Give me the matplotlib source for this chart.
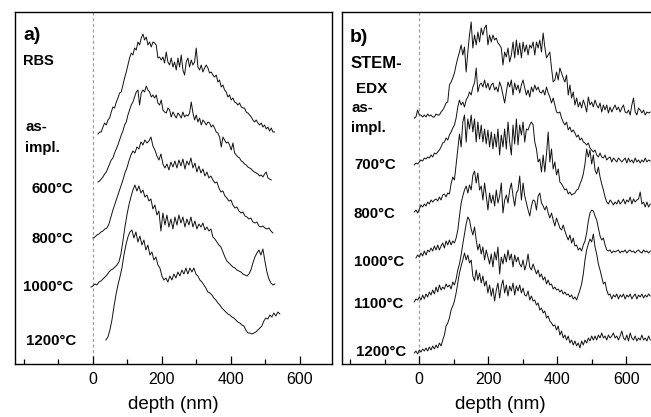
import numpy as np
import matplotlib
matplotlib.use("Agg")
import matplotlib.pyplot as plt
from matplotlib.ticker import MultipleLocator

plt.rcParams['font.family'] = ['Liberation Sans', 'DejaVu Sans']

# ---------------- Panel a: RBS depth profiles ----------------
rbs_labels = ['as-impl.', '600°C', '800°C', '1000°C', '1200°C']
rbs_asimpl = [1,3,3,8,12,10,15,17,23,28,27,33,37,42,43,50,57,63,70,77,82,80,87,85,93,90,97,101,95,98,90,93,88,93,92,90,77,78,75,78,72,83,73,70,77,68,73,65,77,68,80,65,60,73,77,68,75,70,73,87,68,65,70,63,67,70,67,62,63,60,58,60,53,55,48,50,45,43,38,40,35,37,33,32,30,32,28,27,27,23,22,20,18,15,13,15,12,10,12,8,10,6,8,4,7,3,3]
rbs_600 = [1,2,4,6,9,11,15,19,23,25,30,34,38,43,48,52,58,61,68,73,78,81,86,91,93,78,90,93,91,97,93,91,86,88,85,88,80,78,83,73,71,70,75,73,66,71,68,65,70,68,65,71,66,68,67,70,81,70,63,68,61,65,58,63,61,58,61,60,56,58,55,51,50,46,36,46,43,40,41,38,33,40,30,28,26,25,22,21,19,18,16,15,14,12,11,10,9,7,8,6,9,11,5,4,3]
rbs_800 = [0,1,3,4,6,7,9,10,14,21,28,34,40,46,52,58,65,70,77,83,87,85,91,89,96,93,98,95,97,101,92,88,82,78,84,74,70,74,68,76,71,77,70,78,72,79,69,77,73,80,70,75,66,72,65,69,62,66,60,62,58,55,56,50,46,47,42,40,37,38,33,30,31,27,25,26,22,21,19,20,16,15,16,12,11,12,10,9,10,7,5]
rbs_1000 = [0,1,3,2,5,6,8,10,12,15,17,18,20,22,25,33,46,60,72,82,90,97,102,96,101,94,97,90,92,86,88,78,82,72,76,56,74,62,72,60,68,58,70,62,72,64,70,60,68,62,70,60,66,58,63,60,64,57,60,56,58,50,48,45,42,40,35,30,26,24,22,20,19,17,16,15,13,12,11,13,17,24,30,34,37,32,38,26,15,8,4,2,3]
rbs_1200 = [0,3,10,20,33,45,55,63,72,85,95,103,108,110,102,108,98,104,95,100,90,95,85,88,80,83,75,72,64,60,62,58,64,60,66,62,68,64,70,66,72,66,72,68,72,66,64,60,58,55,52,48,47,45,42,40,37,35,32,30,28,26,25,23,22,20,18,17,15,14,10,7,7,6,7,8,10,12,14,19,22,21,25,23,27,24,28,26]
rbs_depth_ranges = [(15.4, 527.5), (15.4, 517.9), (0.9, 522.7), (-4.9, 528.5), (38.6, 542.8)]

# ---------------- Panel b: STEM-EDX depth profiles ----------------
edx_labels = ['as-impl.', '700°C', '800°C', '1000°C', '1100°C', '1200°C']
edx_asimpl = [0,1,8,3,3,1,3,1,4,2,3,1,1,4,3,3,6,8,11,15,16,33,36,40,45,53,60,66,73,63,71,46,66,83,96,
              70,83,73,86,76,90,83,90,93,73,83,76,83,78,80,75,73,70,53,66,61,70,56,63,76,60,78,63,75,60,
              76,66,73,63,73,70,76,63,76,70,78,66,85,71,60,63,66,50,36,38,46,38,50,45,40,36,43,23,33,20,
              26,13,20,11,16,10,18,13,6,21,13,16,11,18,13,10,15,6,13,8,13,5,11,6,10,13,8,11,6,10,
              13,6,5,8,3,13,20,6,3,10,8,5,8,3,6,5,6]
edx_700 = [0,2,1,3,5,4,7,6,8,7,10,8,12,11,13,15,18,22,23,27,25,30,33,37,40,47,58,65,60,63,58,65,68,73,70,78,82,97,73,80,82,78,85,77,82,75,80,82,75,78,73,83,78,70,62,73,83,78,85,70,82,75,80,72,80,85,77,70,75,68,78,73,80,75,78,73,72,75,70,78,72,68,62,67,60,53,52,53,47,43,40,43,35,38,33,35,32,28,30,25,27,23,22,20,22,17,15,13,15,10,8,12,8,7,10,5,7,8,3,7,5,3,7,5,3,5,7,2,7,3,5,2,7,3,5,2,5,3,7,3,5,4]
edx_800 = [0,2,-1,3,7,5,8,6,10,8,12,10,12,13,11,15,12,17,18,15,19,18,28,35,32,47,63,78,65,90,97,70,93,83,97,80,93,70,90,73,87,70,83,68,82,65,80,63,78,65,83,57,77,65,83,63,90,70,57,87,68,93,67,87,77,90,70,83,82,87,90,87,70,63,50,53,40,57,40,58,80,50,63,43,50,37,43,30,28,25,22,23,18,20,17,18,19,22,23,28,32,38,48,63,55,62,48,57,42,38,45,35,28,22,15,10,8,12,10,7,10,8,12,8,10,13,8,12,10,15,8,13,10,12,13,20,8,10,5,10,5,8]
edx_1000 = [0,3,1,5,2,7,3,8,6,10,7,12,8,13,8,12,15,10,17,13,18,13,17,15,20,28,42,55,62,68,72,65,73,68,83,87,75,85,68,72,58,75,62,48,65,55,63,52,68,55,62,75,45,58,63,55,68,75,62,52,65,68,82,58,75,62,55,48,42,52,58,57,48,62,65,55,52,48,52,45,40,45,38,32,40,35,30,28,33,27,22,18,23,15,20,12,13,8,10,7,13,17,25,37,45,48,47,42,38,30,22,18,20,13,8,7,8,5,7,6,7,8,5,7,6,8,5,7,8,6,7,5,7,8,6,5,8,6,7,5,7]
edx_1100 = [0,3,2,5,2,7,3,8,5,10,7,12,8,15,10,17,12,15,13,18,15,17,13,20,17,23,32,38,47,58,68,78,85,82,73,67,75,62,52,58,48,55,42,52,45,38,48,35,50,42,55,28,45,38,48,40,52,42,48,35,47,40,45,38,35,42,32,38,48,35,32,38,33,28,32,25,28,22,25,18,22,17,18,13,15,12,13,10,12,8,10,7,8,5,7,3,5,2,7,12,18,28,42,52,58,63,60,68,55,48,38,32,25,18,20,12,7,8,3,7,5,8,3,7,5,8,3,7,5,8,3,6,8,3,7,5,8,4,7,5,8,6]
edx_1200 = [0,2,-1,3,1,4,2,5,2,6,3,7,4,8,5,10,7,13,18,27,30,35,43,47,52,60,70,80,87,93,100,93,98,90,93,77,72,83,73,80,70,77,67,72,60,68,57,65,52,63,70,55,67,73,60,68,57,67,62,70,58,67,62,68,60,65,58,57,62,53,57,52,53,48,50,43,45,40,42,35,37,32,30,27,28,23,27,18,22,15,18,13,17,10,13,8,12,7,10,5,12,8,13,10,15,12,17,13,17,13,18,15,20,15,17,13,18,15,17,20,15,17,13,17,22,15,13,18,12,20,15,13,17,12,15,13,18,13,15,12,17,13]
edx_depth_ranges = [(-14.6, 669.5)] * 3 + [(-9.7, 669.5)] + [(-14.6, 669.5)] * 2

# x-axis ticks
xticks_major = [0, 200, 400, 600]

# ---------------- layout (pixels of a 651 x 417 canvas) ----------------
W, H = 651, 417
rbs_offsets = [229, 181, 126, 77, 24]
edx_offsets = [246, 199, 152, 106, 62, 11]

fig = plt.figure(figsize=(W / 100, H / 100), dpi=100)

def px_axes(l, t, r, b):
    return fig.add_axes([l / W, 1 - b / H, (r - l) / W, (b - t) / H])

axa = px_axes(15, 12, 332, 364)
axb = px_axes(341.7, 12, 658.7, 364)

def style(ax):
    ax.set_xlim(-225, 694)
    ax.set_ylim(0, 352)
    ax.set_yticks([])
    ax.set_xticks(xticks_major)
    ax.xaxis.set_minor_locator(MultipleLocator(100))
    ax.tick_params(axis='x', which='major', direction='in', length=6, width=0.9,
                   labelsize=11.5, pad=6, top=False)
    ax.tick_params(axis='x', which='minor', direction='in', length=3.5, width=0.9, top=False)
    for s in ax.spines.values():
        s.set_linewidth(1.0)
    ax.axvline(0, color='#a0a0a0', lw=0.9, ls=(0, (2.5, 2)), zorder=1)
    ax.set_xlabel('depth (nm)', fontsize=13.5, labelpad=6)

for ax in (axa, axb):
    style(ax)

rbs_series = [rbs_asimpl, rbs_600, rbs_800, rbs_1000, rbs_1200]
for vals, (d0, d1), off in zip(rbs_series, rbs_depth_ranges, rbs_offsets):
    v = np.asarray(vals, float)
    d = np.linspace(d0, d1, len(v))
    axa.plot(d, v + off, color='#111111', lw=0.7, zorder=3)

edx_series = [edx_asimpl, edx_700, edx_800, edx_1000, edx_1100, edx_1200]
for vals, (d0, d1), off in zip(edx_series, edx_depth_ranges, edx_offsets):
    v = np.asarray(vals, float)
    d = np.linspace(d0, d1, len(v))
    axb.plot(d, v + off, color='#111111', lw=0.7, zorder=3)

def ftext(x, y, s, size=10.8, weight='bold'):
    fig.text(x / W, 1 - y / H, s, fontsize=size, fontweight=weight, ha='left', va='center')

# panel a labels
ftext(23, 36, 'a)', size=14)
ftext(23, 61, 'RBS', size=10.5)
ftext(25, 127, 'as-')
ftext(25, 148, 'impl.')
ftext(32, 189, rbs_labels[1])
ftext(32, 239, rbs_labels[2])
ftext(23, 287, rbs_labels[3])
ftext(26, 341, rbs_labels[4])

# panel b labels
ftext(350, 38, 'b)', size=14)
ftext(351, 64, 'STEM-', size=12)
ftext(356, 89, 'EDX', size=11)
ftext(351, 108, 'as-')
ftext(351, 128, 'impl.')
ftext(354, 165, edx_labels[1])
ftext(354, 214, edx_labels[2])
ftext(354, 262, edx_labels[3])
ftext(354, 304, edx_labels[4])
ftext(356, 352, edx_labels[5])

fig.savefig('out.png', dpi=100)
